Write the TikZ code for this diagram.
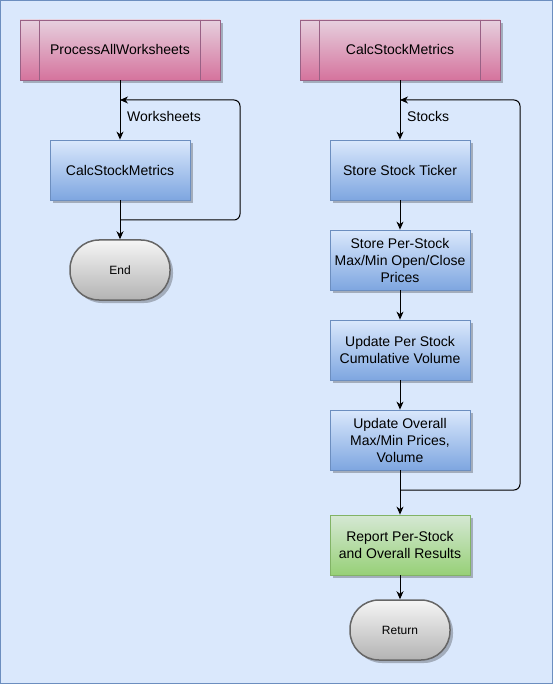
\documentclass[tikz,border=0pt]{standalone}
\usepackage{fontspec}
\setmainfont{Liberation Sans}
\usetikzlibrary{arrows.meta,shadows}

\definecolor{pagefill}{HTML}{DAE8FC}
\definecolor{pageline}{HTML}{6C8EBF}
\definecolor{pinktop}{HTML}{E6D0DE}
\definecolor{pinkbot}{HTML}{D5739D}
\definecolor{pinkline}{HTML}{996185}
\definecolor{bluetop}{HTML}{DAE8FC}
\definecolor{bluebot}{HTML}{7EA6E0}
\definecolor{greentop}{HTML}{D5E8D4}
\definecolor{greenbot}{HTML}{97D077}
\definecolor{greenline}{HTML}{82B366}
\definecolor{graytop}{HTML}{F5F5F5}
\definecolor{graybot}{HTML}{B3B3B3}
\definecolor{grayline}{HTML}{666666}

\begin{document}
\begin{tikzpicture}[x=1pt,y=-1pt,
	shade/.style={drop shadow={shadow xshift=3pt,shadow yshift=-3pt,fill=black,opacity=0.25}},
	txt/.style={font=\fontsize{14}{17}\selectfont,align=center,inner sep=0pt},
	subproc/.style={txt,shade,draw=pinkline,line width=0.8pt,top color=pinktop,bottom color=pinkbot,minimum width=200pt,minimum height=60pt},
	stepbox/.style={txt,shade,draw=pageline,line width=0.8pt,top color=bluetop,bottom color=bluebot,minimum width=140pt,minimum height=60pt},
	donebox/.style={txt,shade,draw=greenline,line width=0.8pt,top color=greentop,bottom color=greenbot,minimum width=140pt,minimum height=60pt},
	term/.style={shade,draw=grayline,line width=1.5pt,top color=graytop,bottom color=graybot,rounded corners=29pt,minimum width=100pt,minimum height=60pt,inner sep=0pt,font=\fontsize{12}{14}\selectfont},
	flow/.style={line width=1pt,-{Stealth[length=8pt,width=7pt,inset=2.5pt]}},
	lbl/.style={txt,anchor=west}]
	\useasboundingbox (0,0) rectangle (553,684);
	\draw[fill=pagefill,draw=pageline,line width=1pt] (0.5,0.5) rectangle (552.5,683.5);

	% left column
	\node[subproc] (procA) at (120,50) {ProcessAllWorksheets};
	\node[stepbox] (calcA) at (120,170) {CalcStockMetrics};
	\node[term] (endA) at (120,270) {End};

	% right column
	\node[subproc] (procB) at (400,50) {CalcStockMetrics};
	\node[stepbox] (ticker) at (400,170) {Store Stock Ticker};
	\node[stepbox] (prices) at (400,260) {Store Per-Stock\\Max/Min Open/Close\\Prices};
	\node[stepbox] (volume) at (400,350) {Update Per Stock\\Cumulative Volume};
	\node[stepbox] (overall) at (400,440) {Update Overall\\Max/Min Prices,\\Volume};
	\node[donebox] (report) at (400,545) {Report Per-Stock\\and Overall Results};
	\node[term] (ret) at (400,630) {Return};

	% side bars of the subprocess boxes
	\foreach \n in {procA,procB} {
		\draw[pinkline,line width=0.8pt] ([xshift=20pt]\n.north west) -- ([xshift=20pt]\n.south west);
		\draw[pinkline,line width=0.8pt] ([xshift=-20pt]\n.north east) -- ([xshift=-20pt]\n.south east);
	}

	\draw[flow] (procA) -- (calcA);
	\draw[flow] (calcA) -- (endA);
	\draw[flow] (procB) -- (ticker);
	\draw[flow] (ticker) -- (prices);
	\draw[flow] (prices) -- (volume);
	\draw[flow] (volume) -- (overall);
	\draw[flow] (overall) -- (report);
	\draw[flow] (report) -- (ret);

	% loops
	\coordinate (joinA) at (120,220);
	\coordinate (cornA1) at (240,220);
	\coordinate (cornA2) at (240,100);
	\coordinate (backA) at (120,100);
	\draw[flow,rounded corners=6pt] (joinA) -- (cornA1) -- (cornA2) -- (backA);
	\coordinate (joinB) at (400,490);
	\coordinate (cornB1) at (520,490);
	\coordinate (cornB2) at (520,100);
	\coordinate (backB) at (400,100);
	\draw[flow,rounded corners=6pt] (joinB) -- (cornB1) -- (cornB2) -- (backB);

	\node[lbl] (each) at (127,116) {Worksheets};
	\node[lbl] (stocks) at (407,116) {Stocks};
\end{tikzpicture}
\end{document}
